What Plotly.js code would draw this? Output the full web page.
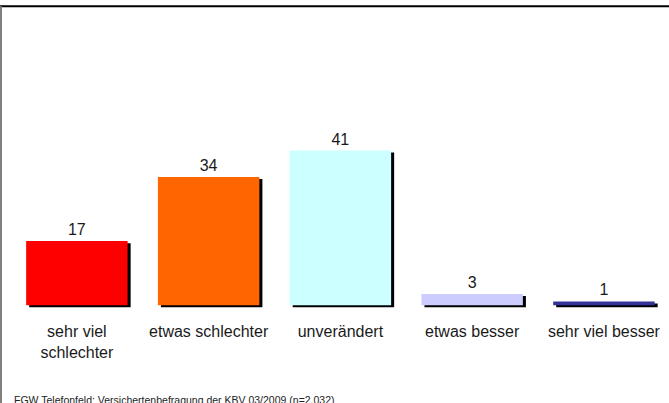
<!DOCTYPE html>
<html><head><meta charset="utf-8">
<script src="https://cdn.plot.ly/plotly-3.0.1.min.js"></script>
<style>html,body{margin:0;padding:0;background:#fff}</style>
</head><body><div id="chart" style="width:669px;height:403px"></div>
<script>
const categories = ["sehr viel schlechter", "etwas schlechter", "unverändert", "etwas besser", "sehr viel besser"];
const tickLabels = ["sehr viel<br>schlechter", "etwas schlechter", "unverändert", "etwas besser", "sehr viel besser"];
const values = [17, 34, 41, 3, 1];
const colors = ["#FF0000", "#FF6600", "#CCFFFF", "#CCCCFF", "#333399"];
const source = "FGW Telefonfeld: Versichertenbefragung der KBV 03/2009 (n=2.032)";

const barW = 0.77;
const shadow = {
  type: "bar", x: categories, y: values,
  base: values.map(() => -0.55),
  width: barW, offset: -barW/2 + 0.023,
  marker: {color: "#000", line: {width: 0}},
  hoverinfo: "skip", showlegend: false
};
const bars = {
  type: "bar", x: categories, y: values,
  width: barW, offset: -barW/2,
  marker: {color: colors, line: {width: 0}},
  text: values.map(String), textposition: "outside",
  textfont: {family: "Liberation Sans, Arial, sans-serif", size: 16, color: "#1a1a1a"},
  cliponaxis: false, showlegend: false
};
const layout = {
  width: 669, height: 403,
  margin: {l: 11, r: 0, t: 20, b: 94},
  paper_bgcolor: "#fff", plot_bgcolor: "#fff",
  barmode: "overlay",
  font: {family: "Liberation Sans, Arial, sans-serif", size: 16, color: "#1a1a1a"},
  xaxis: {type: "category", range: [-0.5, 4.494], tickvals: categories, ticktext: tickLabels,
          showgrid: false, zeroline: false, showline: false, ticks: "", ticklabelstandoff: 11,
          tickfont: {size: 16}},
  yaxis: {range: [-1, 75.6], visible: false, showgrid: false, zeroline: false},
  shapes: [
    {type: "line", xref: "paper", yref: "paper", x0: -0.02, x1: 1, y0: 1.048, y1: 1.048,
     line: {color: "#000", width: 2}},
    {type: "line", xref: "paper", yref: "paper", x0: -0.0152, x1: -0.0152, y0: 1.048, y1: -0.35,
     line: {color: "#808080", width: 2}}
  ],
  annotations: [
    {text: source, xref: "paper", yref: "paper", x: 0.002, y: -0.286, xanchor: "left", yanchor: "top",
     showarrow: false, font: {size: 10.5, color: "#222"}}
  ]
};
Plotly.newPlot("chart", [shadow, bars], layout, {displayModeBar: false, staticPlot: true});
</script></body></html>
